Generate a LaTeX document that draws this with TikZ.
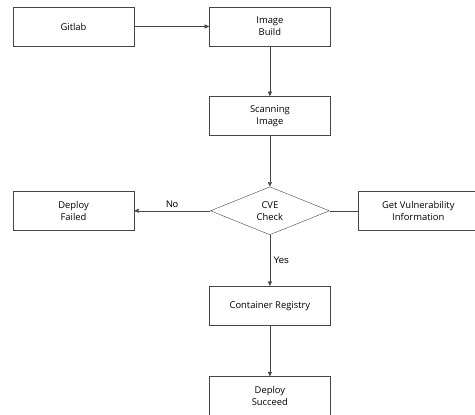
\documentclass[tikz,border=0pt]{standalone}
\usepackage{fontspec}
\setmainfont{Open Sans}
\newfontfamily\labfont{Liberation Sans}
\usetikzlibrary{positioning,arrows.meta,shapes.geometric}
\definecolor{edge}{RGB}{70,70,70}
\tikzset{
  box/.style={draw=edge, align=center, font=\fontsize{9.4}{12}\selectfont, inner sep=2pt, minimum width=121pt, minimum height=39pt},
  dec/.style={diamond, draw=edge, align=center, font=\fontsize{9.4}{12}\selectfont, inner sep=0pt, minimum width=119pt, minimum height=48pt},
  arr/.style={-{Triangle[length=4.5pt, width=4pt]}, draw=edge},
  lab/.style={font=\labfont\fontsize{9.5}{11}\selectfont, midway}
}

\begin{document}
\begin{tikzpicture}[node distance=50pt and 75pt]
\useasboundingbox (0,0) rectangle (475pt,-415pt);
\node[box] (git) at (73.5pt,-26.5pt) {Gitlab};
\node[box, right=of git] (build) {Image\\Build};
\node[box, below=of build] (scan) {Scanning\\Image};
\node[dec, below=51pt of scan] (cve) {CVE\\Check};
\node[box, left=76pt of cve] (fail) {Deploy\\Failed};
\node[box, right=28pt of cve, minimum width=126pt] (vuln) {\hspace*{-5pt}Get Vulnerability\\\hspace*{-5pt}Information};
\node[box, below=51pt of cve] (reg) {Container Registry};
\node[box, below=51pt of reg] (ok) {Deploy\\Succeed};
\draw[arr] (git)--(build); \draw[arr] (build)--(scan); \draw[arr] (scan)--(cve);
\draw[arr] (cve)-- node[lab, above]{No} (fail);
\draw[draw=edge] (cve)--(vuln);
\draw[arr] (cve)-- node[lab, right]{Yes} (reg);
\draw[arr] (reg)--(ok);
\end{tikzpicture}
\end{document}
